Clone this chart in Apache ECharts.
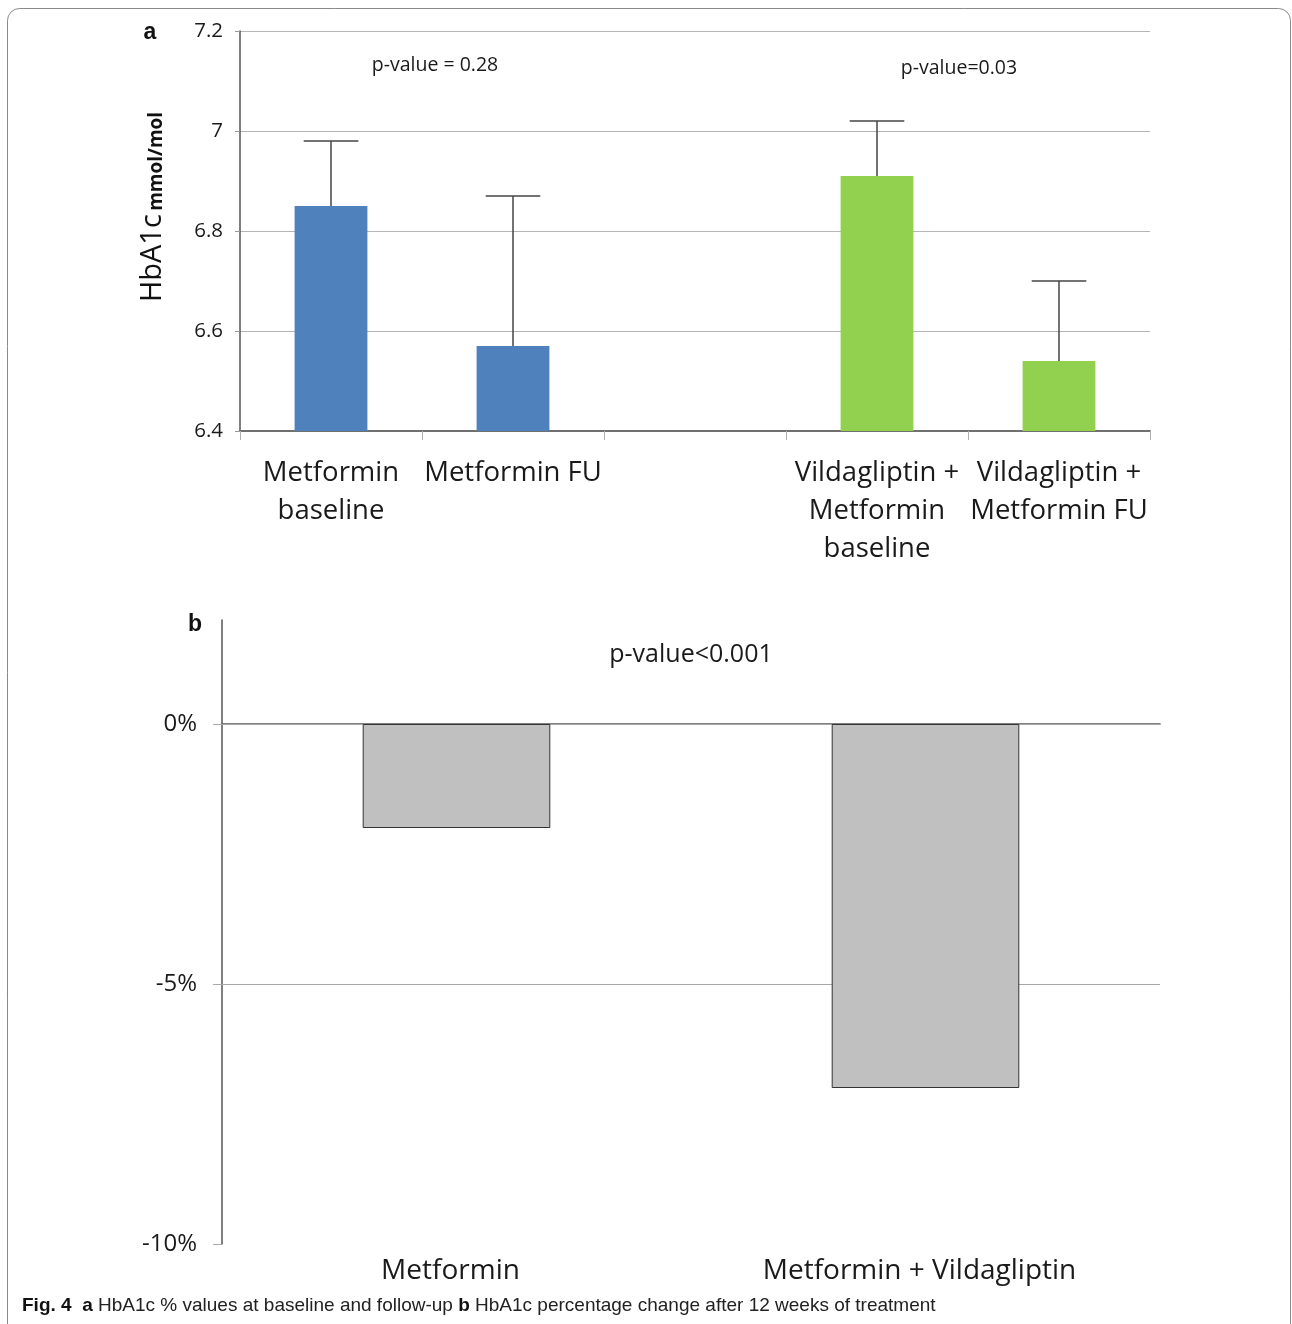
<!DOCTYPE html>
<html>
<head>
<meta charset="utf-8">
<script src="https://cdn.jsdelivr.net/npm/echarts@6/dist/echarts.min.js"></script>
<style>
html,body{margin:0;padding:0;background:#fff;}
#c{width:1292px;height:1324px;}
</style>
</head>
<body>
<div id="c"></div>
<script>
// ---- Data: panel a ----
var categoriesA = ['Metformin\nbaseline', 'Metformin FU', '', 'Vildagliptin +\nMetformin\nbaseline', 'Vildagliptin +\nMetformin FU'];
var meansA = [6.85, 6.57, null, 6.91, 6.54];
var upperA = [6.98, 6.87, null, 7.02, 6.70];
var colorsA = ['#4f81bd', '#4f81bd', '#4f81bd', '#92d050', '#92d050'];
var yTicksA = [6.4, 6.6, 6.8, 7.0, 7.2];
var pValueA1 = 'p-value = 0.28';
var pValueA2 = 'p-value=0.03';

// ---- Data: panel b ----
var categoriesB = ['Metformin', 'Metformin + Vildagliptin'];
var changeB = [-2.0, -7.0];
var yTicksB = [-10, -5, 0];
var pValueB = 'p-value<0.001';

var FONT = '"Open Sans", "Noto Sans", sans-serif';

var barDataA = meansA.map(function (v, i) {
  return v == null ? '-' : { value: v, itemStyle: { color: colorsA[i] } };
});
var errDataA = [];
meansA.forEach(function (v, i) {
  if (v != null) errDataA.push([i, v, upperA[i]]);
});

var chart = echarts.init(document.getElementById('c'), null, { renderer: 'canvas' });

var option = {
  backgroundColor: '#fff',
  animation: false,
  grid: [
    { left: 240, top: 31, width: 910, height: 400 },
    { left: 222, top: 620, width: 938, height: 624 }
  ],
  xAxis: [
    {
      type: 'category', gridIndex: 0, data: categoriesA,
      axisLine: { lineStyle: { color: '#707070', width: 2 } },
      axisTick: { show: true, length: 9, lineStyle: { color: '#b0b0b0', width: 1 } },
      axisLabel: { color: '#1a1a1a', fontSize: 27.5, fontFamily: FONT, lineHeight: 38, margin: 23, interval: 0 }
    },
    {
      type: 'category', gridIndex: 1, data: categoriesB,
      axisLine: { lineStyle: { color: '#555', width: 1.5 } },
      axisTick: { show: false },
      axisLabel: { color: '#1a1a1a', fontSize: 28, fontFamily: FONT, margin: 13, interval: 0, padding: [0, 12, 0, 0] }
    }
  ],
  yAxis: [
    {
      type: 'value', gridIndex: 0, min: 6.4, max: 7.2, interval: 0.2,
      axisLine: { show: true, lineStyle: { color: '#555', width: 1.5 } },
      axisTick: { show: true, length: 5, lineStyle: { color: '#999' } },
      splitLine: { lineStyle: { color: '#b5b5b5', width: 1 } },
      axisLabel: {
        color: '#1a1a1a', fontSize: 20.5, fontFamily: FONT, margin: 17,
        customValues: yTicksA,
        formatter: function (v) { return String(Math.round(v * 10) / 10); }
      }
    },
    {
      type: 'value', gridIndex: 1, min: -10, max: 2, interval: 5,
      axisLine: { show: true, lineStyle: { color: '#555', width: 1.5 } },
      axisTick: { show: true, length: 9, customValues: yTicksB, lineStyle: { color: '#aaa' } },
      splitLine: { show: false },
      axisLabel: {
        color: '#1a1a1a', fontSize: 24, fontFamily: FONT, margin: 25,
        customValues: yTicksB,
        formatter: function (v) { return v + '%'; }
      }
    }
  ],
  series: [
    {
      type: 'bar', xAxisIndex: 0, yAxisIndex: 0, data: barDataA,
      barWidth: '40%', itemStyle: { color: '#4f81bd' }, z: 2
    },
    {
      type: 'custom', xAxisIndex: 0, yAxisIndex: 0, data: errDataA,
      encode: { x: 0, y: [1, 2] }, z: 3,
      renderItem: function (params, api) {
        var x = api.value(0);
        var p1 = api.coord([x, api.value(1)]);
        var p2 = api.coord([x, api.value(2)]);
        var hw = api.size([1, 0])[0] * 0.15;
        var st = { stroke: '#444', lineWidth: 1.5 };
        return {
          type: 'group',
          children: [
            { type: 'line', shape: { x1: p1[0], y1: p1[1], x2: p2[0], y2: p2[1] }, style: st },
            { type: 'line', shape: { x1: p2[0] - hw, y1: p2[1], x2: p2[0] + hw, y2: p2[1] }, style: st }
          ]
        };
      }
    },
    {
      type: 'bar', xAxisIndex: 1, yAxisIndex: 1, data: changeB,
      barWidth: '40%',
      itemStyle: { color: '#c0c0c0', borderColor: '#333', borderWidth: 1 },
      markLine: {
        silent: true, symbol: 'none', label: { show: false },
        lineStyle: { color: '#a8a8a8', type: 'solid', width: 1 },
        data: [{ yAxis: 0 }, { yAxis: -5 }],
        z: 1
      },
      z: 2
    }
  ],
  graphic: [
    {
      type: 'rect', z: -1, silent: true,
      shape: { x: 7.5, y: 8.5, width: 1283, height: 1340, r: 12 },
      style: { fill: 'none', stroke: '#8a8a8a', lineWidth: 1 }
    },
    { type: 'text', x: 150, y: 33, style: { text: 'a', font: 'bold 23px "Liberation Sans", Arial, sans-serif', fill: '#111', textAlign: 'center', textVerticalAlign: 'middle' } },
    { type: 'text', x: 195, y: 625, style: { text: 'b', font: 'bold 23px "Liberation Sans", Arial, sans-serif', fill: '#111', textAlign: 'center', textVerticalAlign: 'middle' } },
    { type: 'text', x: 435, y: 65, style: { text: pValueA1, font: '19.5px ' + FONT, fill: '#1a1a1a', textAlign: 'center', textVerticalAlign: 'middle' } },
    { type: 'text', x: 959, y: 68, style: { text: pValueA2, font: '19.5px ' + FONT, fill: '#1a1a1a', textAlign: 'center', textVerticalAlign: 'middle' } },
    { type: 'text', x: 691, y: 655, style: { text: pValueB, font: '25px ' + FONT, fill: '#1a1a1a', textAlign: 'center', textVerticalAlign: 'middle' } },
    {
      type: 'text', x: 153, y: 207, rotation: Math.PI / 2,
      style: {
        text: '{big|HbA1c} {small|mmol/mol}',
        textAlign: 'center', textVerticalAlign: 'middle',
        rich: {
          big: { fontSize: 29, fontFamily: FONT, fill: '#111', verticalAlign: 'bottom' },
          small: { fontSize: 19, fontWeight: 'bold', fontFamily: FONT, fill: '#111', verticalAlign: 'bottom', padding: [0, 0, 1, 0] }
        }
      }
    },
    {
      type: 'text', x: 22, y: 1306,
      style: {
        text: '{b|Fig. 4}  {b|a} HbA1c % values at baseline and follow-up {b|b} HbA1c percentage change after 12 weeks of treatment',
        textVerticalAlign: 'middle',
        rich: {
          b: { fontSize: 19, fontWeight: 'bold', fontFamily: '"Liberation Sans", Arial, sans-serif', fill: '#111' }
        },
        fontSize: 19, fontFamily: '"Liberation Sans", Arial, sans-serif', fill: '#222'
      }
    }
  ]
};
chart.setOption(option);
</script>
</body>
</html>
